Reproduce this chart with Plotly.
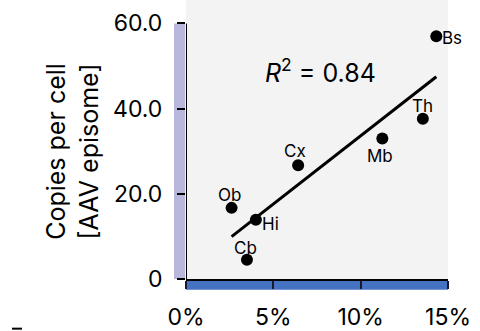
import numpy as np
import plotly.graph_objects as go

regions = ["Bs", "Th", "Mb", "Cx", "Ob", "Hi", "Cb"]
x_pct = [14.33, 13.56, 11.24, 6.42, 2.61, 4.0, 3.49]
copies = [57.0, 37.6, 33.0, 26.7, 16.7, 13.9, 4.5]
label_dx = [16, 0, -2, -3, -2, 15, -1]
label_dy = [-2, 13, -18, 14, 13, -4, 12]
x_ticks = [0, 5, 10, 15]
x_ticktext = ["0%", "5%", "10%", "15%"]
y_ticks = [0, 20, 40, 60]
y_ticktext = ["0", "20.0", "40.0", "60.0"]
r2_text = "<i>R</i><sup>2</sup> = 0.84"

FONT = "Inter"

slope, intercept = np.polyfit(x_pct, copies, 1)
fx = np.array([min(x_pct), max(x_pct)])
fy = slope * fx + intercept

fig = go.Figure()
fig.add_trace(go.Scatter(x=fx, y=fy, mode="lines",
                         line=dict(color="black", width=3), showlegend=False, hoverinfo="skip"))
fig.add_trace(go.Scatter(x=x_pct, y=copies, mode="markers",
                         marker=dict(color="black", size=12), showlegend=False))

for name, xv, yv, dx, dy in zip(regions, x_pct, copies, label_dx, label_dy):
    fig.add_annotation(x=xv, y=yv, text=name, showarrow=False, xshift=dx, yshift=dy,
                       xanchor="center", yanchor="middle",
                       font=dict(family=FONT, size=17, color="black"))

fig.add_annotation(x=7.71, y=48.9, text=r2_text, showarrow=False,
                   xanchor="center", yanchor="middle",
                   font=dict(family=FONT, size=25, color="black"))

fig.add_annotation(xref="paper", yref="paper", x=-0.431, y=0.456,
                   xanchor="center", yanchor="middle",
                   text="Copies per cell<br>[AAV episome]", textangle=-90, showarrow=False,
                   font=dict(family=FONT, size=25, color="black"))

# colored side bars
fig.add_shape(type="rect", xref="x domain", yref="y", x0=-12/262, x1=-0.003, y0=0, y1=60,
              fillcolor="#b9b7db", line=dict(width=0), layer="below")
fig.add_shape(type="rect", xref="x", yref="y domain", x0=0, x1=15, y0=-11/287, y1=-0.004,
              fillcolor="#4672c4", line=dict(width=0), layer="below")
# y axis line up to 60
fig.add_shape(type="line", xref="x", yref="y", x0=0, x1=0, y0=0, y1=60,
              line=dict(color="black", width=2))
# small stray dash at bottom-left
fig.add_shape(type="line", xref="paper", yref="paper", x0=-0.664, x1=-0.626, y0=-0.178, y1=-0.178,
              line=dict(color="black", width=2))

fig.update_layout(
    width=480, height=331,
    margin=dict(l=186, r=32, t=0, b=44),
    paper_bgcolor="white", plot_bgcolor="#f3f3f3",
    font=dict(family=FONT, size=23, color="black"),
    xaxis=dict(range=[0, 15], tickvals=x_ticks, ticktext=x_ticktext, showgrid=False,
               zeroline=False, showline=True, linecolor="black", linewidth=2,
               ticks="outside", ticklen=8, tickwidth=2, tickcolor="#1a1a2a",
               ticklabelstandoff=8, tickfont=dict(size=23)),
    yaxis=dict(range=[0, 65.5], tickvals=y_ticks, ticktext=y_ticktext, showgrid=False,
               zeroline=False, showline=False,
               ticks="outside", ticklen=8, tickwidth=2, tickcolor="black",
               ticklabelstandoff=10, tickfont=dict(size=23)),
)

fig.write_html("out.html")
